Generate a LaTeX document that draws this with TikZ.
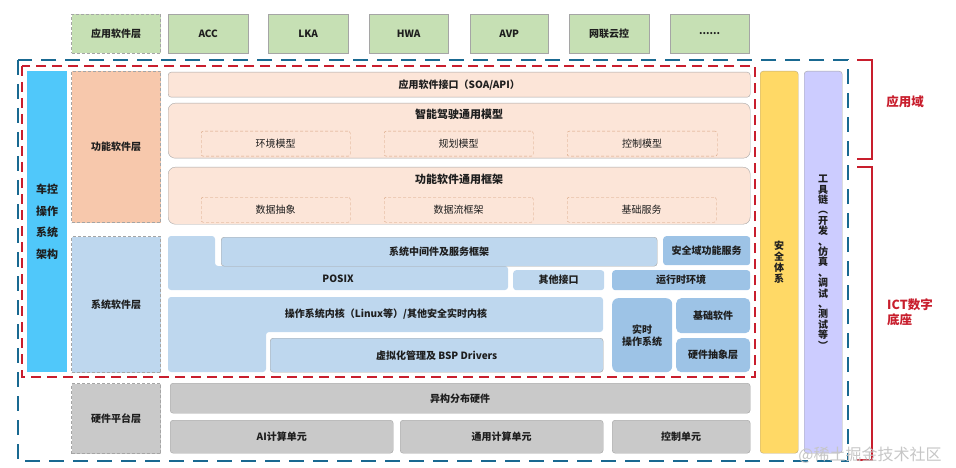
\documentclass[tikz,border=0pt]{standalone}
\usepackage{fontspec}
\setmainfont{Noto Sans CJK SC}
\usepackage{xcolor}
\usepackage{tikz}
\usetikzlibrary{positioning}
\definecolor{textDark}{RGB}{30,30,30}
\definecolor{boxGray}{RGB}{165,165,165}
\definecolor{appGreen}{RGB}{198,224,180}
\definecolor{vehicleCyan}{RGB}{80,200,250}
\definecolor{funcPeach}{RGB}{247,200,172}
\definecolor{peachLight}{RGB}{252,229,216}
\definecolor{peachLine}{RGB}{215,160,125}
\definecolor{sysBlue}{RGB}{190,215,238}
\definecolor{sysBlueDark}{RGB}{157,195,230}
\definecolor{hwGray}{RGB}{201,201,201}
\definecolor{safeYellow}{RGB}{255,217,102}
\definecolor{safeLine}{RGB}{190,170,120}
\definecolor{toolLavender}{RGB}{204,204,255}
\definecolor{domainBlue}{RGB}{25,105,145}
\definecolor{domainRed}{RGB}{200,30,45}
\tikzset{
  layerBox/.style={rectangle, anchor=north west, draw=boxGray, line width=1pt,
    dash pattern=on 3pt off 2pt, minimum width=89pt, font=\bfseries, text=textDark},
  appBox/.style={rectangle, anchor=north west, draw=boxGray, fill=appGreen,
    minimum height=39pt, font=\bfseries, text=textDark},
  rowBox/.style={rectangle, rounded corners=3pt, anchor=north west, draw=boxGray,
    font=\bfseries, text=textDark},
  subBox/.style={rectangle, rounded corners=2pt, anchor=north west, draw=peachLine,
    dash pattern=on 3pt off 2pt, minimum height=25pt, text=textDark},
  titleText/.style={font=\bfseries\fontsize{11}{13}\selectfont, text=textDark},
  domainLine/.style={line width=2.6pt},
  bracketLine/.style={draw=domainRed, line width=1.4pt},
  domainLabel/.style={font=\bfseries\fontsize{12.5}{15}\selectfont, text=domainRed}
}
\begin{document}
\begin{tikzpicture}[x=1pt, y=-1pt]
  \useasboundingbox (0,0) rectangle (956,468);

  % application layer
  \node[layerBox, fill=appGreen, minimum height=39pt] (lblApp) at (71,14) {应用软件层};
  \node[appBox, minimum width=80pt] (acc) at (168,14) {ACC};
  \node[appBox, minimum width=80pt] (lka) at (268,14) {LKA};
  \node[appBox, minimum width=79pt] (hwa) at (369,14) {HWA};
  \node[appBox, minimum width=78pt] (avp) at (470,14) {AVP};
  \node[appBox, minimum width=80pt] (cloud) at (569,14) {网联云控};
  \node[appBox, minimum width=79pt] (more) at (670,14) {......};

  % left column and layer labels
  \node[rectangle, anchor=north west, fill=vehicleCyan, minimum width=40pt,
        minimum height=301pt, align=center, text=textDark,
        font=\bfseries\fontsize{11}{21.5}\selectfont] (vehicle) at (27,71)
    {车控\\操作\\系统\\架构};
  \node[layerBox, fill=funcPeach, minimum height=151pt] (lblFunc) at (71,71) {功能软件层};
  \node[layerBox, fill=sysBlue, minimum height=136pt] (lblSys) at (71,236) {系统软件层};
  \node[layerBox, fill=hwGray, minimum height=70pt] (lblHw) at (71,383) {硬件平台层};

  % functional software
  \node[rowBox, fill=peachLight, minimum width=582pt, minimum height=25pt] (api)
    at (168,72) {应用软件接口（SOA/API）};
  \node[rowBox, rounded corners=7pt, fill=peachLight, minimum width=582pt,
        minimum height=55pt] (model) at (168,103) {};
  \node[titleText, below=2pt of model.north] (modelTitle) {智能驾驶通用模型};
  \node[subBox, minimum width=149pt] (envModel) at (201,131) {环境模型};
  \node[subBox, minimum width=149pt] (planModel) at (384,131) {规划模型};
  \node[subBox, minimum width=150pt] (ctrlModel) at (567,131) {控制模型};
  \node[rowBox, rounded corners=7pt, fill=peachLight, minimum width=582pt,
        minimum height=57pt] (frame) at (168,167) {};
  \node[titleText, below=4pt of frame.north] (frameTitle) {功能软件通用框架};
  \node[subBox, minimum width=149pt] (dataAbs) at (201,197) {数据抽象};
  \node[subBox, minimum width=149pt] (dataFlow) at (384,197) {数据流框架};
  \node[subBox, minimum width=149pt] (baseSvc) at (567,197) {基础服务};

  % system software
  \fill[sysBlue, rounded corners=3pt] (168,236) -- (215,236) -- (215,266)
    -- (508,266) -- (508,290) -- (168,290) -- cycle;
  \node[font=\bfseries, text=textDark] (posix) at (338,279) {POSIX};
  \node[rowBox, fill=sysBlue, minimum width=436pt, minimum height=29pt] (middleware)
    at (221,237) {系统中间件及服务框架};
  \node[rowBox, fill=sysBlueDark, draw=none, minimum width=87pt, minimum height=29pt]
    (safetySvc) at (663,236) {安全域功能服务};
  \node[rowBox, fill=sysBlue, draw=none, minimum width=91pt, minimum height=20pt]
    (otherIf) at (513,270) {其他接口};
  \node[rowBox, fill=sysBlueDark, draw=none, minimum width=138pt, minimum height=20pt]
    (runtime) at (612,270) {运行时环境};
  \fill[sysBlue, rounded corners=3pt] (168,297) -- (603,297) -- (603,332)
    -- (266,332) -- (266,372) -- (168,372) -- cycle;
  \node[font=\bfseries, text=textDark] (kernel) at (386,314)
    {操作系统内核（Linux等）/其他安全实时内核};
  \node[rowBox, fill=sysBlue, minimum width=333pt, minimum height=34pt] (virt)
    at (270,338) {虚拟化管理及 BSP Drivers};
  \node[rowBox, rounded corners=6pt, fill=sysBlueDark, draw=none, minimum width=60pt,
        minimum height=74pt, align=center] (rtos) at (612,298) {实时\\操作系统};
  \node[rowBox, rounded corners=5pt, fill=sysBlueDark, draw=none, minimum width=74pt,
        minimum height=35pt] (baseSw) at (676,298) {基础软件};
  \node[rowBox, rounded corners=5pt, fill=sysBlueDark, draw=none, minimum width=74pt,
        minimum height=34pt] (hal) at (676,338) {硬件抽象层};

  % hardware platform
  \node[rowBox, fill=hwGray, minimum width=580pt, minimum height=30pt] (hetero)
    at (170,383) {异构分布硬件};
  \node[rowBox, fill=hwGray, minimum width=223pt, minimum height=33pt] (aiUnit)
    at (170,420) {AI计算单元};
  \node[rowBox, fill=hwGray, minimum width=203pt, minimum height=33pt] (genUnit)
    at (400,420) {通用计算单元};
  \node[rowBox, fill=hwGray, minimum width=138pt, minimum height=33pt] (ctrlUnit)
    at (612,420) {控制单元};

  % safety and tool chain columns
  \node[rowBox, fill=safeYellow, draw=safeLine, minimum width=38pt, minimum height=382pt,
        align=center, font=\bfseries\fontsize{10}{11}\selectfont] (safety) at (760,71)
    {安\\全\\体\\系};
  \node[rowBox, fill=toolLavender, minimum width=38pt, minimum height=382pt,
        align=center, font=\bfseries\fontsize{10}{10.4}\selectfont] (toolChain) at (804,71)
    {工\\具\\链\\︵\\开\\发\\、\\仿\\真\\、\\调\\试\\、\\测\\试\\等\\︶};

  % domain frames
  \draw[domainLine, domainBlue, dash pattern=on 15pt off 9pt] (18,60) rectangle (848,461);
  \draw[domainLine, domainRed, dash pattern=on 10pt off 6pt] (22,66) rectangle (755,377);

  % brackets
  \draw[bracketLine] (857,60) -- (872,60) -- (872,159) -- (857,159);
  \draw[bracketLine] (857,167) -- (872,167) -- (872,460) -- (857,460);
  \node[domainLabel] (appDomain) at (905,102) {应用域};
  \node[domainLabel, anchor=north west, align=left, inner sep=0pt] (ictBase) at (887,299)
    {ICT数字\\底座};

  \node[text=gray!45, font=\fontsize{16}{16}\selectfont] (watermark) at (870,455)
    {@稀土掘金技术社区};
\end{tikzpicture}
\end{document}
